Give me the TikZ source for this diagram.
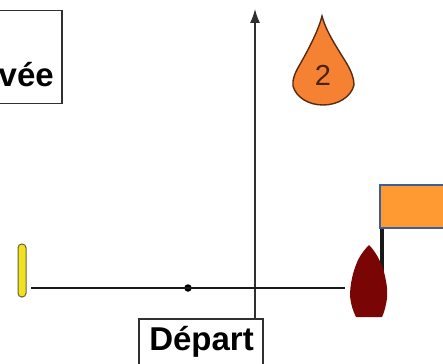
\documentclass[tikz,border=0pt]{standalone}
\usepackage{fontspec}
\setmainfont{Liberation Sans}
\usetikzlibrary{arrows.meta}
\definecolor{markorange}{HTML}{F58233}
\definecolor{flagorange}{HTML}{FF9A33}
\definecolor{flagblue}{HTML}{3A5F9A}
\definecolor{hull}{HTML}{7A0505}
\definecolor{buoy}{HTML}{F2E21C}
\definecolor{edgegrey}{HTML}{303030}
\definecolor{markink}{HTML}{5A2A10}
\tikzset{
  textbox/.style={draw=edgegrey,line width=1.5pt,fill=white,inner sep=0pt,anchor=north west},
  boxlabel/.style={font=\fontsize{33}{33}\selectfont\bfseries,text=black,inner sep=0pt,anchor=base east},
  track/.style={draw=black!90,line width=1.8pt},
  axisline/.style={draw=edgegrey,line width=1.3pt,-{Latex[length=14pt,width=10pt]}}
}
\begin{document}
\begin{tikzpicture}[x=1pt,y=-1pt]
\useasboundingbox (0,0) rectangle (443,363);
\clip (0,0) rectangle (443,363);
\fill[white] (0,0) rectangle (443,363);
% axis
\coordinate (axisstart) at (255,318);
\coordinate (axisend) at (255,9);
\draw[axisline] (axisstart) -- (axisend);
% boxes
\node[textbox,minimum width=91pt,minimum height=93pt] (arrbox) at (-30,10) {};
\node[boxlabel] (arrtext) at (54,87) {Arrivée};
\node[textbox,minimum width=124pt,minimum height=60pt] (depbox) at (138,318) {};
\node[boxlabel] (deptext) at (254,350) {Départ};
% start line
\node[draw=black!70!yellow,fill=buoy,line width=1pt,minimum width=8pt,minimum height=53pt,rounded corners=3.8pt,inner sep=0pt] (pin) at (22,270.5) {};
\coordinate (lineend) at (345,288);
\node[circle,fill=black,minimum size=7.5pt,inner sep=0pt] (dot) at (188,288) {};
\draw[track] (31,288) -- (lineend);
% flag pole and flag
\draw[black!90,line width=3.6pt] (382,228) -- (382,272);
\node[textbox,draw=flagblue,fill=flagorange,line width=2.2pt,minimum width=100pt,minimum height=43pt] (flag) at (379,184) {};
% boat
\fill[hull] (369,245)
  .. controls (376,252) and (381,262) .. (384,272)
  .. controls (386,280) and (388,290) .. (387,298)
  .. controls (386,306) and (384,313) .. (382,317)
  -- (356,317)
  .. controls (353,311) and (351,305) .. (350,296)
  .. controls (350,284) and (353,271) .. (358,260)
  .. controls (361,254) and (365,249) .. (369,245) -- cycle;
% mark
\draw[draw=markink,fill=markorange,line width=1.4pt] (322,16)
  .. controls (318,32) and (307,52) .. (299,66)
  .. controls (295,73) and (292,80) .. (293,86)
  .. controls (296,97) and (308,105) .. (323,105)
  .. controls (338,105) and (351,97) .. (354,85)
  .. controls (354,78) and (351,71) .. (347,64)
  .. controls (338,49) and (326,32) .. (322,16) -- cycle;
\node[font=\fontsize{29}{29}\selectfont,text=markink!80!black,inner sep=0pt] (marklabel) at (323,75) {2};
\end{tikzpicture}
\end{document}
